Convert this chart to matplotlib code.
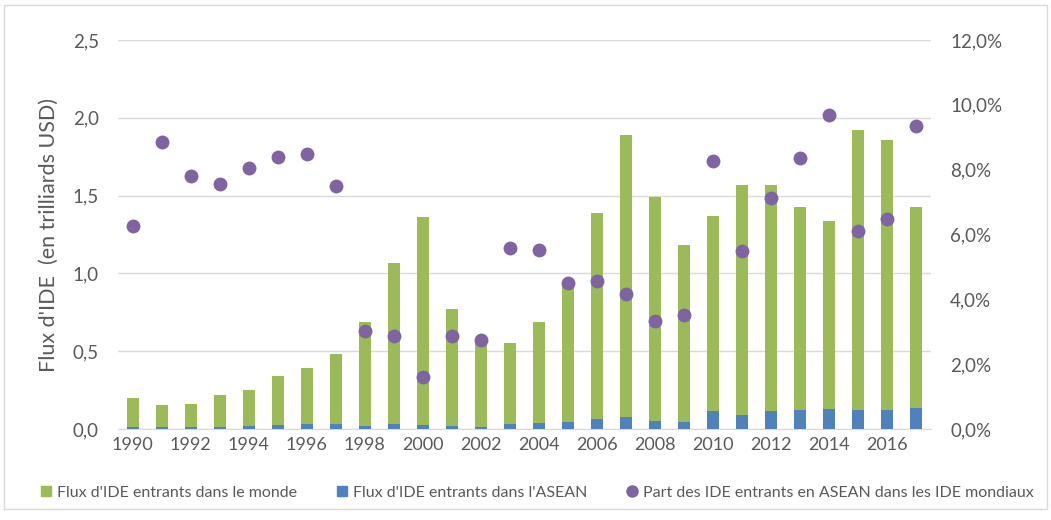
import matplotlib.pyplot as plt
from matplotlib.patches import Rectangle
from matplotlib.lines import Line2D
from matplotlib.ticker import FuncFormatter

plt.rcParams['font.family'] = ['Lato', 'DejaVu Sans']

years = list(range(1990, 2018))
# flux mondiaux (trilliards USD)
monde = [0.20, 0.153, 0.162, 0.217, 0.253, 0.343, 0.392, 0.481, 0.69, 1.07,
         1.36, 0.77, 0.56, 0.55, 0.69, 0.93, 1.39, 1.89, 1.49, 1.18,
         1.37, 1.57, 1.57, 1.43, 1.34, 1.92, 1.86, 1.43]
# flux ASEAN (trilliards USD)
asean = [0.012, 0.014, 0.013, 0.016, 0.020, 0.028, 0.033, 0.034, 0.021, 0.030,
         0.023, 0.022, 0.016, 0.030, 0.038, 0.045, 0.064, 0.079, 0.051, 0.045,
         0.113, 0.087, 0.113, 0.121, 0.128, 0.121, 0.121, 0.134]
# part ASEAN dans le monde (%)
part = [6.27, 8.86, 7.81, 7.56, 8.06, 8.40, 8.49, 7.50, 3.02, 2.87,
        1.60, 2.87, 2.75, 5.59, 5.52, 4.51, 4.57, 4.17, 3.33, 3.52,
        8.27, 5.49, 7.13, 8.36, 9.69, 6.11, 6.48, 9.35]

vert = '#9BBB59'
bleu = '#4F81BD'
violet = '#8064A2'
gris = '#595959'

fig = plt.figure(figsize=(10.51, 5.2), dpi=100)
ax = fig.add_axes([0.1125, 0.175, 0.773, 0.748])
ax2 = ax.twinx()

ax.bar(years, monde, width=0.42, color=vert, zorder=2)
ax.bar(years, asean, width=0.42, color=bleu, zorder=3)
ax2.scatter(years, part, s=100, color=violet, zorder=4, linewidths=0)

ax.set_xlim(1989.5, 2017.5)
ax.set_ylim(0, 2.5)
ax2.set_ylim(0, 12)
ax.set_yticks([0, 0.5, 1.0, 1.5, 2.0, 2.5])
ax2.set_yticks([0, 2, 4, 6, 8, 10, 12])
ax.yaxis.set_major_formatter(FuncFormatter(lambda v, p: f"{v:.1f}".replace('.', ',')))
ax2.yaxis.set_major_formatter(FuncFormatter(lambda v, p: f"{v:.1f}%".replace('.', ',')))
ax.set_xticks(list(range(1990, 2017, 2)))

ax.grid(axis='y', color='#D9D9D9', linewidth=1, zorder=0)
ax.set_axisbelow(True)
for a in (ax, ax2):
    for s in a.spines.values():
        s.set_visible(False)
    a.tick_params(length=0, colors=gris, labelsize=13.5)
ax.tick_params(axis='x', pad=6, labelsize=13)
ax.tick_params(axis='y', pad=14)
ax2.tick_params(axis='y', pad=14)
ax.spines['bottom'].set_visible(True)
ax.spines['bottom'].set_color('#D9D9D9')

ax.set_ylabel("Flux d'IDE  (en trilliards USD)", color=gris, fontsize=15.5, labelpad=10)

handles = [
    Line2D([], [], marker='s', linestyle='none', color=vert, markersize=7),
    Line2D([], [], marker='s', linestyle='none', color=bleu, markersize=7),
    Line2D([], [], marker='o', linestyle='none', color=violet, markersize=8),
]
labels = ["Flux d'IDE entrants dans le monde", "Flux d'IDE entrants dans l'ASEAN",
          "Part des IDE entrants en ASEAN dans les IDE mondiaux"]
fig.legend(handles, labels, loc='center', bbox_to_anchor=(0.51, 0.052), ncol=3,
           frameon=False, fontsize=11.5, labelcolor=gris, handletextpad=0.2,
           columnspacing=2.3, handlelength=1)

fig.patches.append(Rectangle((0.004, 0.022), 0.992, 0.968, transform=fig.transFigure,
                             fill=False, edgecolor='#D9D9D9', linewidth=1))

fig.savefig('out.png', dpi=100)
